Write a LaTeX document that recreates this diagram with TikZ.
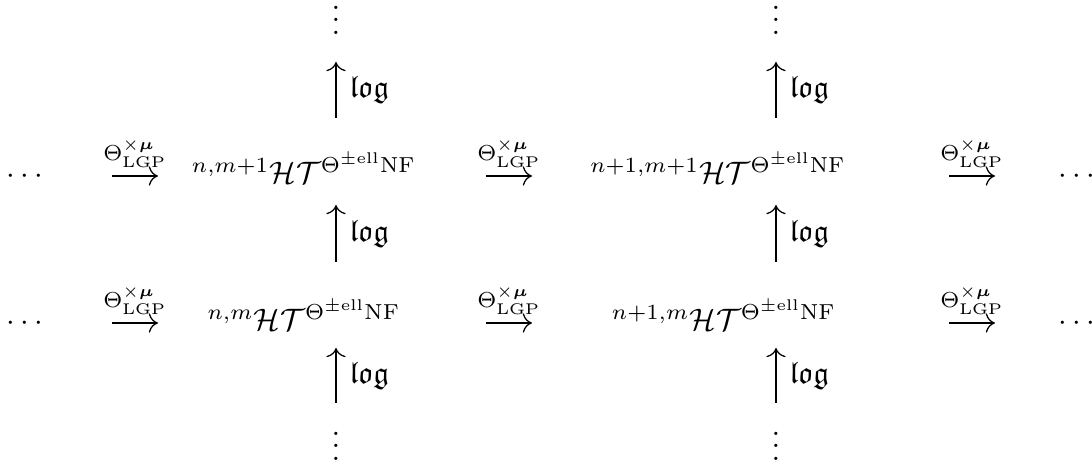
\documentclass[tikz,border=0pt]{standalone}
\usepackage{amsmath,amssymb}
\usetikzlibrary{arrows.meta}
\newcommand{\myHT}[1]{${}^{#1}\mathcal{H}\mathcal{T}^{\Theta^{\pm\mathrm{ell}}\mathrm{NF}}$}
\newcommand{\myvdots}{\vbox{\baselineskip4pt\lineskiplimit0pt\hbox{.}\hbox{.}\hbox{.}}}
\begin{document}
\begin{tikzpicture}[x=0.322581pt,y=-0.322581pt,
  txt/.style={inner sep=0pt, anchor=base},
  conn/.style={-{To[scale=1.2]}, line width=0.4pt},
  hlab/.style={inner sep=0pt, anchor=south},
  vlab/.style={inner sep=0pt, anchor=west},
  vd/.style={inner sep=0pt, anchor=south}]
\useasboundingbox (0,0) rectangle (1092,464);
% rows
\node[txt, anchor=base west] (l1) at (6,184) {$\cdots$};
\node[txt] (a11) at (304,184) {\myHT{n,m+1}};
\node[txt] (a12) at (718,184) {\myHT{n+1,m+1}};
\node[txt, anchor=base west] (r1) at (1058,184) {$\cdots$};
\node[txt, anchor=base west] (l2) at (6,331) {$\cdots$};
\node[txt] (a21) at (304,331) {\myHT{n,m}};
\node[txt] (a22) at (724,331) {\myHT{n+1,m}};
\node[txt, anchor=base west] (r2) at (1058,331) {$\cdots$};
% vertical dots
\node[vd] (t1) at (336,35) {\myvdots};
\node[vd] (t2) at (776,35) {\myvdots};
\node[vd] (b1) at (336,461) {\myvdots};
\node[vd] (b2) at (776,461) {\myvdots};
% horizontal arrows
\foreach \r/\y in {1/176,2/323}{
  \foreach \c/\x in {1/135,2/509,3/972}{
    \coordinate (hs\r\c) at (\x-23,\y);
    \coordinate (he\r\c) at (\x+23,\y);
    \draw[conn] (hs\r\c) -- (he\r\c);
    \node[hlab] (hl\r\c) at (\x,\y-8) {$\scriptstyle\Theta^{\times\boldsymbol{\mu}}_{\mathrm{LGP}}$};
  }
}
% vertical arrows
\foreach \c/\x in {1/336,2/776}{
  \foreach \k/\ya/\yb in {1/118/62,2/262/205,3/403/348}{
    \coordinate (vs\c\k) at (\x,\ya);
    \coordinate (ve\c\k) at (\x,\yb);
    \draw[conn] (vs\c\k) -- (ve\c\k);
    \node[vlab] (vl\c\k) at (\x+13,{(\ya+\yb)/2}) {$\mathfrak{log}$};
  }
}
\end{tikzpicture}
\end{document}
